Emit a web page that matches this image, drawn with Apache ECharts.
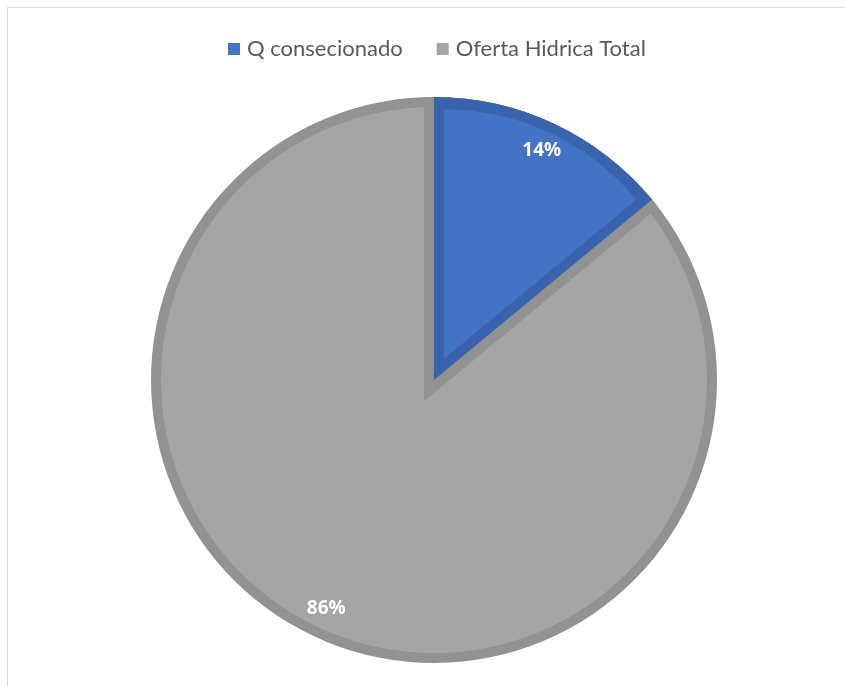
<!DOCTYPE html>
<html>
<head>
<meta charset="utf-8">
<script src="https://cdn.jsdelivr.net/npm/echarts@6/dist/echarts.min.js"></script>
<style>
  html, body { margin: 0; padding: 0; background: #fff; }
  #frame { position: absolute; left: 7px; top: 7px; width: 900px; height: 700px;
           border-left: 1.5px solid #d9d9d9; border-top: 1.5px solid #d9d9d9; }
  #chart { position: absolute; left: 0; top: 0; width: 845px; height: 686px; }
</style>
</head>
<body>
<div id="frame"></div>
<div id="chart"></div>
<script>
// ---- data ----
const categories = ['Q consecionado', 'Oferta Hidrica Total'];
const values = [14, 86];

// ---- styles ----
const fillColors = ['#4472C4', '#A5A5A5'];
const edgeColors = ['#3A63AD', '#929292'];
const cx = 434, cy = 380, R = 283, bw = 10;

const total = values.reduce((a, b) => a + b, 0);
const halfAngle = values[0] / total * Math.PI; // half of the first slice angle (radians)
const shift = bw / Math.sin(halfAngle);
const insetCenter = [cx + shift * Math.sin(halfAngle), cy - shift * Math.cos(halfAngle)];

const none = 'rgba(0,0,0,0)';
const base = {
  type: 'pie', startAngle: 90, clockwise: true, silent: true, animation: false,
  label: { show: false }, labelLine: { show: false }, emphasis: { disabled: true },
  center: [cx, cy]
};
function items(styleFn) {
  return categories.map((name, i) => ({ name, value: values[i], itemStyle: styleFn(i) }));
}

const chart = echarts.init(document.getElementById('chart'), null, { renderer: 'canvas' });
chart.setOption({
  backgroundColor: 'transparent',
  legend: {
    top: 33, left: 223, icon: 'rect', itemWidth: 12, itemHeight: 12, itemGap: 34,
    textStyle: { fontFamily: 'Lato', fontSize: 22, color: '#595959', padding: [0, 0, 0, 2] },
    data: categories.map((name, i) => ({ name, itemStyle: { color: fillColors[i] } })),
    selectedMode: false
  },
  series: [
    // outer dark rim (both slices)
    Object.assign({}, base, { z: 1, radius: R,
      data: items(i => ({ color: edgeColors[i], borderWidth: 0 })) }),
    // light grey interior disc
    Object.assign({}, base, { z: 2, radius: R - bw,
      data: [{ name: 'bg', value: 1, itemStyle: { color: fillColors[1], borderWidth: 0 } }] }),
    // grey band around first slice
    Object.assign({}, base, { z: 3, radius: R - bw,
      data: items(i => i === 0
        ? { color: edgeColors[1], borderColor: edgeColors[1], borderWidth: bw * 2, borderJoin: 'miter', borderMiterLimit: 10 }
        : { color: none, borderWidth: 0 }) }),
    // first slice dark rim
    Object.assign({}, base, { z: 4, radius: R,
      data: items(i => i === 0 ? { color: edgeColors[0], borderWidth: 0 } : { color: none, borderWidth: 0 }) }),
    // first slice light interior (inset)
    Object.assign({}, base, { z: 5, radius: R - bw - shift, center: insetCenter,
      data: items(i => i === 0 ? { color: fillColors[0], borderWidth: 0 } : { color: none, borderWidth: 0 }) }),
    // labels
    Object.assign({}, base, { z: 6, radius: [217, R], percentPrecision: 0,
      label: { show: true, position: 'inside', formatter: '{d}%', color: '#fff',
               fontFamily: 'Open Sans', fontWeight: 'bold', fontSize: 19 },
      data: items(() => ({ color: none, borderWidth: 0 })) })
  ]
});
</script>
</body>
</html>
